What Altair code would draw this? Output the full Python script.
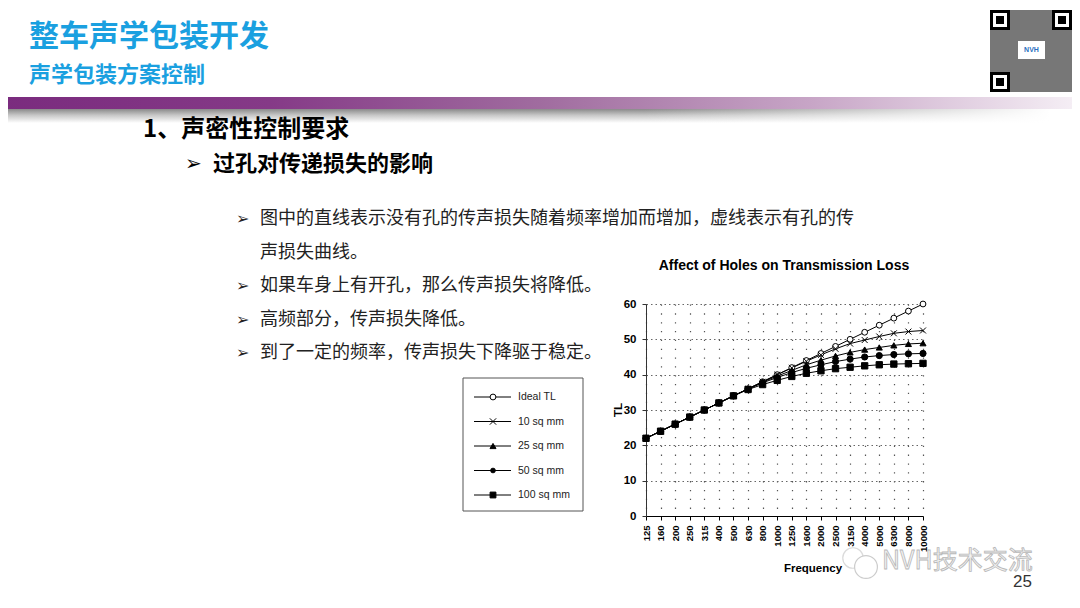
import altair as alt
import pandas as pd

# ---------------- data ----------------
freqs = ["125", "160", "200", "250", "315", "400", "500", "630", "800", "1000",
         "1250", "1600", "2000", "2500", "3150", "4000", "5000", "6300", "8000", "10000"]
series_names = ["Ideal TL", "10 sq mm", "25 sq mm", "50 sq mm", "100 sq mm"]
ideal_tl = [22, 24, 26, 28, 30, 32, 34, 36, 38, 40, 42, 44, 46, 48, 50, 52, 54, 56, 58, 60]
tl_10 = [22, 24, 26, 28, 30, 32, 34, 36, 38, 40, 41.9, 43.8, 45.6, 47.3, 48.8, 49.8, 50.8, 51.7, 52.2, 52.5]
tl_25 = [22, 24, 26, 28, 30, 32, 34, 36, 37.9, 39.6, 41.2, 42.8, 44.1, 45.3, 46.3, 47.1, 47.7, 48.3, 48.7, 48.9]
tl_50 = [22, 24, 26, 28, 30, 32, 34, 35.9, 37.7, 39.2, 40.6, 41.8, 42.8, 43.7, 44.4, 45.0, 45.4, 45.7, 45.9, 46.0]
tl_100 = [22, 24, 26, 28, 30, 32, 34, 35.8, 37.2, 38.4, 39.5, 40.4, 41.1, 41.7, 42.1, 42.5, 42.8, 43.0, 43.1, 43.2]
y_ticks = [0, 10, 20, 30, 40, 50, 60]

chart_title = "Affect of Holes on Transmission Loss"
x_title = "Frequency"
y_title = "TL"
slide_title = "整车声学包装开发"
slide_subtitle = "声学包装方案控制"
heading1 = "1、声密性控制要求"
heading2 = "过孔对传递损失的影响"
bullets = [
    "图中的直线表示没有孔的传声损失随着频率增加而增加，虚线表示有孔的传",
    "声损失曲线。",
    "如果车身上有开孔，那么传声损失将降低。",
    "高频部分，传声损失降低。",
    "到了一定的频率，传声损失下降驱于稳定。",
]
bullet_marks = [True, False, True, True, True]
page_no = "25"
watermark = "NVH技术交流"

rows = []
for name, vals in zip(series_names, [ideal_tl, tl_10, tl_25, tl_50, tl_100]):
    for f, v in zip(freqs, vals):
        rows.append({"freq": f, "tl": v, "series": name})
df = pd.DataFrame(rows)

# ---------------- styles ----------------
X_SHAPE = "M-1,-1L1,1M-1,1L1,-1"
shapes = ["circle", X_SHAPE, "triangle-up", "circle", "square"]
fills = ["white", "black", "black", "black", "black"]
sizes = [34, 40, 36, 22, 34]

OX, OY = 646, 304      # screen position of plot origin
W, H = 277, 212


def px(x):
    return x - OX


def py(y):
    return y - OY


one = alt.Data(values=[{"k": 1}])
CJK = "Noto Sans CJK SC"
LAT = "Liberation Sans"


def txt(t, x, y, size, color="black", weight="normal", font=CJK, align="left",
        baseline="middle", angle=0, **kw):
    return alt.Chart(one).mark_text(
        text=t, align=align, baseline=baseline, fontSize=size, font=font,
        fontWeight=weight, color=color, angle=angle, **kw
    ).encode(x=alt.value(px(x)), y=alt.value(py(y)))


def box(x1, y1, x2, y2, **kw):
    return alt.Chart(one).mark_rect(**kw).encode(
        x=alt.value(px(x1)), x2=alt.value(px(x2)),
        y=alt.value(py(y1)), y2=alt.value(py(y2)))


layers = []

# header bar + shadow
layers.append(box(0, 109, 1070, 123, color=alt.LinearGradient(
    gradient="linear", x1=0, x2=0, y1=0, y2=1,
    stops=[alt.GradientStop(color="#8a8a8a", offset=0),
           alt.GradientStop(color="#c8c8c8", offset=0.45),
           alt.GradientStop(color="#ffffff", offset=1)])))
layers.append(box(0, 109, 1072, 124, color=alt.LinearGradient(
    gradient="linear", x1=0, x2=1, y1=0, y2=0,
    stops=[alt.GradientStop(color="rgba(255,255,255,0)", offset=0),
           alt.GradientStop(color="rgba(255,255,255,0)", offset=0.6),
           alt.GradientStop(color="rgba(255,255,255,1)", offset=0.98)])))
layers.append(box(0, 97, 1080, 109, color=alt.LinearGradient(
    gradient="linear", x1=0, x2=1, y1=0, y2=0,
    stops=[alt.GradientStop(color="#7a2b7e", offset=0),
           alt.GradientStop(color="#853a87", offset=0.25),
           alt.GradientStop(color="#a06c9f", offset=0.5),
           alt.GradientStop(color="#c7a5c6", offset=0.75),
           alt.GradientStop(color="#f6f0f6", offset=1)])))

# titles
layers.append(txt(slide_title, 29, 37, 30, color="#1aa0e0", weight="bold"))
layers.append(txt(slide_subtitle, 29, 75, 22, color="#1aa0e0", weight="bold"))

# QR-code like block
layers.append(box(990, 10, 1072, 92, fill="#777777"))
for qx, qy in [(990, 10), (1052, 10), (990, 72)]:
    layers.append(box(qx, qy, qx + 20, qy + 20, fill="black"))
    layers.append(box(qx + 3, qy + 3, qx + 17, qy + 17, fill="white"))
    layers.append(box(qx + 6, qy + 6, qx + 14, qy + 14, fill="black"))
layers.append(box(1018, 41, 1045, 59, fill="white"))
layers.append(txt("NVH", 1031.5, 50, 7, color="#2a6fc0", weight="bold", font=LAT, align="center"))

# headings
layers.append(txt(heading1, 143, 130, 24, weight="bold"))
layers.append(txt("➢", 185, 164, 20, font="DejaVu Sans", weight="bold"))
layers.append(txt(heading2, 213, 164, 22, weight="bold"))

# bullets
for i, (b, m) in enumerate(zip(bullets, bullet_marks)):
    yy = 219 + i * 33.6
    if m:
        layers.append(txt("➢", 236, yy, 16, font="DejaVu Sans", color="#222"))
    layers.append(txt(b, 260, yy, 18, color="#222"))

# legend (drawn box)
layers.append(box(463, 378, 583, 511, fill="white", stroke="#555", strokeWidth=1))
for i, name in enumerate(series_names):
    yy = 397 + i * 24.5
    layers.append(alt.Chart(one).mark_rule(color="black", strokeWidth=1).encode(
        x=alt.value(px(474)), x2=alt.value(px(511)), y=alt.value(py(yy))))
    layers.append(alt.Chart(one).mark_point(
        shape=shapes[i], size=sizes[i], filled=True, fill=fills[i], stroke="black",
        strokeWidth=1, opacity=1).encode(x=alt.value(px(493)), y=alt.value(py(yy))))
    layers.append(txt(name, 518, yy, 10.5, font=LAT, color="#222"))

# watermark + page number
layers.append(alt.Chart(one).mark_point(shape="circle", size=420, filled=False,
                                        stroke="#cccccc", strokeWidth=1.2).encode(
    x=alt.value(px(853)), y=alt.value(py(558))))
layers.append(alt.Chart(one).mark_point(shape="circle", size=520, filled=True, fill="white",
                                        stroke="#cccccc", strokeWidth=1.2, opacity=1).encode(
    x=alt.value(px(866)), y=alt.value(py(567))))
layers.append(txt(watermark, 882, 561, 25, color="#f2f2f2", stroke="#b8b8b8",
                  strokeWidth=0.8, weight="normal"))
layers.append(txt(page_no, 1013, 582, 17, font=LAT, color="#333"))

# ---------------- chart ----------------
x_enc = alt.X("freq:N", scale=alt.Scale(type="point", domain=freqs, padding=0),
              axis=alt.Axis(title=None, labelAngle=-90, labelFont=LAT, labelFontWeight="bold",
                            labelFontSize=9.5, labelColor="black", labelPadding=5,
                            labelOverlap=False, tickSize=4, tickColor="black",
                            domainColor="black", grid=True, gridColor="#555",
                            gridDash=[1.3, 7.53], gridWidth=1.2))
y_enc = alt.Y("tl:Q", scale=alt.Scale(domain=[0, 60], nice=False, zero=True),
              axis=alt.Axis(title=None, values=y_ticks, labelFont=LAT, labelFontWeight="bold",
                            labelFontSize=11.5, labelColor="black", labelPadding=6,
                            tickSize=4, tickColor="#333", domainColor="#333",
                            grid=True, gridColor="#666", gridDash=[1.5, 3], gridWidth=1))

lines = alt.Chart(df).mark_line(color="black", strokeWidth=1).encode(
    x=x_enc, y=y_enc, detail="series:N")
points = alt.Chart(df).mark_point(filled=True, stroke="black", strokeWidth=1, opacity=1).encode(
    x=x_enc, y=y_enc,
    shape=alt.Shape("series:N", scale=alt.Scale(domain=series_names, range=shapes), legend=None),
    fill=alt.Fill("series:N", scale=alt.Scale(domain=series_names, range=fills), legend=None),
    size=alt.Size("series:N", scale=alt.Scale(domain=series_names, range=sizes), legend=None))
layers += [lines, points]

layers.append(txt(chart_title, 784, 266, 14, font=LAT, weight="bold", align="center"))
layers.append(txt(x_title, 813, 569, 11.5, font=LAT, weight="bold", align="center"))
layers.append(txt(y_title, 619, 410, 11.5, font=LAT, weight="bold", align="center", angle=270))

chart = alt.layer(*layers).properties(
    width=W, height=H,
    padding={"left": OX - 8, "top": OY - 8, "right": 1064 - (OX - 8) - W,
             "bottom": 590 - (OY - 8) - H},
    autosize=alt.AutoSizeParams(type="none"),
    background="white",
).configure_view(stroke=None)

chart.save("out.html", embed_options={"renderer": "svg", "actions": False})
